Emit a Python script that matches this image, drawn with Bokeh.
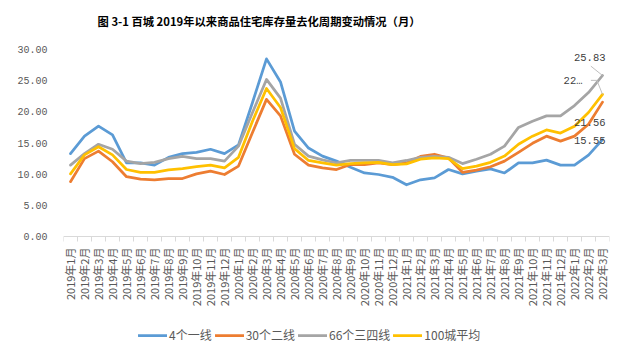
import math
from bokeh.plotting import figure
from bokeh.models import (Range1d, FixedTicker, Legend, LegendItem, Label,
                          ColumnDataSource, NumeralTickFormatter)
from bokeh.core.properties import value
from bokeh.embed import file_html
from bokeh.resources import INLINE

title_text = "图 3-1  百城 2019年以来商品住宅库存量去化周期变动情况（月）"

months = [
    "2019年1月", "2019年2月", "2019年3月", "2019年4月", "2019年5月", "2019年6月",
    "2019年7月", "2019年8月", "2019年9月", "2019年10月", "2019年11月", "2019年12月",
    "2020年1月", "2020年2月", "2020年3月", "2020年4月", "2020年5月", "2020年6月",
    "2020年7月", "2020年8月", "2020年9月", "2020年10月", "2020年11月", "2020年12月",
    "2021年1月", "2021年2月", "2021年3月", "2021年4月", "2021年5月", "2021年6月",
    "2021年7月", "2021年8月", "2021年9月", "2021年10月", "2021年11月", "2021年12月",
    "2022年1月", "2022年2月", "2022年3月",
]

tier1 = [13.3, 16.1, 17.7, 16.3, 11.8, 11.8, 11.45, 12.7, 13.3, 13.5, 14.0, 13.3, 14.7,
         21.5, 28.5, 24.8, 16.9, 14.2, 12.9, 12.1, 11.1, 10.2, 9.95, 9.5, 8.3, 9.1, 9.4,
         10.75, 10.05, 10.5, 10.85, 10.2, 11.8, 11.8, 12.25, 11.45, 11.45, 13.06, 15.55]
tier2 = [8.8, 12.5, 13.7, 12.0, 9.6, 9.2, 9.1, 9.3, 9.3, 10.05, 10.5, 9.95, 11.3,
         16.7, 22.0, 19.35, 13.2, 11.45, 11.0, 10.75, 11.55, 11.55, 11.8, 11.55, 11.8,
         12.85, 13.2, 12.6, 10.3, 10.65, 11.2, 12.1, 13.5, 14.95, 16.1, 15.3, 16.1, 18.0, 21.56]
tier34 = [11.45, 13.3, 14.8, 14.0, 12.1, 11.7, 11.9, 12.5, 12.85, 12.5, 12.5, 12.1, 14.5,
          19.9, 25.2, 22.2, 14.8, 12.9, 12.3, 11.8, 12.2, 12.2, 12.2, 11.8, 12.2, 12.7,
          12.85, 12.7, 11.7, 12.4, 13.2, 14.5, 17.5, 18.5, 19.35, 19.35, 21.0, 23.1, 25.83]
avg100 = [10.05, 13.1, 14.4, 13.1, 10.75, 10.3, 10.3, 10.7, 10.9, 11.2, 11.45, 11.0, 12.7,
          18.5, 23.75, 20.7, 14.1, 12.2, 11.8, 11.45, 11.7, 11.8, 11.9, 11.55, 11.65, 12.4,
          12.6, 12.5, 10.9, 11.3, 11.9, 12.9, 14.8, 16.1, 17.1, 16.6, 17.7, 19.9, 22.8]

series_names = ["4个一线", "30个二线", "66个三四线", "100城平均"]
series_values = [tier1, tier2, tier34, avg100]
series_colors = ["#5B9BD5", "#ED7D31", "#A5A5A5", "#FFC000"]
end_labels = ["15.55", "21.56", "25.83", "22…"]

y_ticks = [0, 5, 10, 15, 20, 25, 30]

n = len(months)
xs = list(range(n))

# the frame spans the whole canvas height; the category axis is pinned at y=0
# so that the title and the legend can sit inside the frame
p = figure(width=627, height=352, output_backend="svg", toolbar_location=None,
           x_range=Range1d(-0.5, n - 0.5), y_range=Range1d(-18.6, 37.86),
           min_border_left=63, min_border_right=18, min_border_top=0,
           min_border_bottom=0)
p.title.text = ""
p.title.visible = False
p.outline_line_color = None
p.background_fill_color = "white"
p.border_fill_color = "white"
p.xgrid.grid_line_color = None
p.ygrid.grid_line_color = None

# axes
xa = p.xaxis[0]
xa.fixed_location = 0
xa.ticker = FixedTicker(ticks=xs, minor_ticks=[i - 0.5 for i in range(n + 1)])
xa.major_label_overrides = {i: m for i, m in enumerate(months)}
xa.major_label_orientation = math.pi / 2
xa.major_tick_out = 0
xa.major_tick_in = 0
xa.minor_tick_out = 5
xa.minor_tick_in = 0
xa.minor_tick_line_color = "#D9D9D9"
xa.axis_line_color = "#D9D9D9"
xa.axis_line_width = 1
xa.major_label_text_font = "Noto Sans CJK SC"
xa.major_label_text_font_size = "11px"
xa.major_label_text_color = "#595959"
xa.major_label_standoff = 6

ya = p.yaxis[0]
ya.ticker = FixedTicker(ticks=y_ticks)
ya.formatter = NumeralTickFormatter(format="0.00")
ya.axis_line_color = None
ya.major_tick_line_color = None
ya.minor_tick_line_color = None
ya.major_label_text_font = "Liberation Mono"
ya.major_label_text_font_size = "10px"
ya.major_label_text_color = "#595959"
ya.major_label_standoff = 10

items = []
for name, vals, col in zip(series_names, series_values, series_colors):
    r = p.line(xs, vals, line_color=col, line_width=2.75, line_join="round",
               line_cap="round")
    items.append(LegendItem(label=name, renderers=[r]))

# leader lines for the crowded end labels (offsets in data units)
last = n - 1
g_end = tier34[-1]
a_end = avg100[-1]
p.multi_line(
    xs=[[last - 0.83, last], [last - 0.83, last - 0.4, last]],
    ys=[[g_end + 1.5, g_end], [a_end + 2.25, a_end + 2.25, a_end]],
    line_color="#BFBFBF", line_width=1)

lab_src = ColumnDataSource(dict(
    x=[last] * 4,
    y=[v[-1] for v in series_values],
    text=end_labels,
    xo=[3, 3, 3, -20],
    yo=[1, 20, -18, -13],
))
p.text(x="x", y="y", text="text", x_offset="xo", y_offset="yo", source=lab_src,
       text_font=value("Liberation Mono"), text_font_size="10.5px",
       text_color="#404040", text_align="right", text_baseline="middle")

# chart title
title = Label(x=1.93, y=34.65, text=title_text, text_font="Noto Sans CJK SC",
              text_font_size="11.3px", text_font_style="bold",
              text_color="#000000", text_align="left", text_baseline="middle")
p.add_layout(title)

legend = Legend(items=items, orientation="horizontal", location=(75, 9),
                glyph_width=29, glyph_height=16, label_height=16,
                label_standoff=2, spacing=3, padding=0, margin=0,
                border_line_color=None, background_fill_alpha=0)
legend.label_text_font = "Noto Sans CJK SC"
legend.label_text_font_size = "12px"
legend.label_text_color = "#595959"
p.add_layout(legend, "center")

open("out.html", "w").write(file_html(p, INLINE))
